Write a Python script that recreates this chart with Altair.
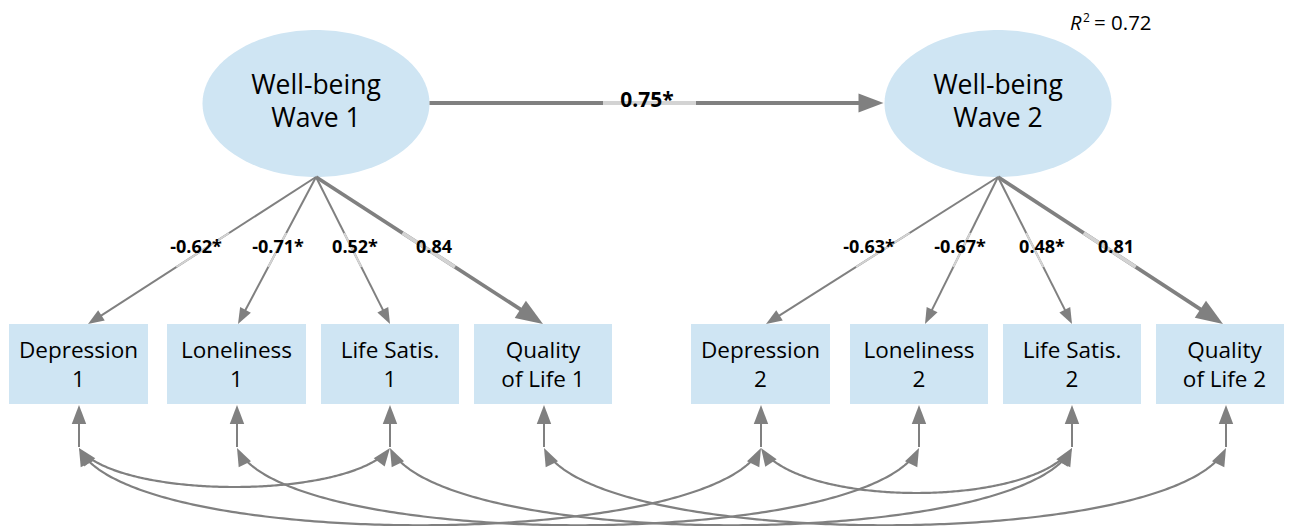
import numpy as np
import pandas as pd
import altair as alt

# ---------------- data ----------------
waves = [1, 2]
factor_labels = ["Well-being\nWave 1", "Well-being\nWave 2"]
indicator_labels = ["Depression\n{w}", "Loneliness\n{w}", "Life Satis.\n{w}", "Quality\nof Life {w}"]
loadings_w1 = [-0.62, -0.71, 0.52, 0.84]
loadings_w2 = [-0.63, -0.67, 0.48, 0.81]
sig_w1 = [True, True, True, False]
sig_w2 = [True, True, True, False]
stability = 0.75
stability_sig = True
r_squared = 0.72
# residual covariances: (wave, indicator index) pairs
residual_covs = [((1, 0), (1, 2)), ((2, 0), (2, 2)),
                 ((1, 0), (2, 0)), ((1, 1), (2, 1)),
                 ((1, 2), (2, 2)), ((1, 3), (2, 3))]

# ---------------- layout (pixels) ----------------
ELL_C = {1: (316.0, 103.5), 2: (998.0, 103.5)}
ELL_RX, ELL_RY = 113.5, 73.5
BOX_X = {1: [(9, 148), (167, 306), (321, 459), (474, 612)],
         2: [(691, 830), (850, 988), (1003, 1141), (1156, 1293)]}
BOX_Y = (324, 404)
LOAD_TIP_X = {1: [88, 238, 390, 543], 2: [766, 925, 1072, 1223]}
LOAD_LBL_X = {1: [196, 278, 355, 434], 2: [869, 960, 1042, 1116]}
RES_X = {1: [79, 237, 390, 544], 2: [761, 919, 1072, 1226]}
RES_Y = 447
GRAY = "#808080"
LIGHT = "#d3d3d3"
FILL = "#cfe5f3"
FONT = "Open Sans"
ARROW = "M0,0L-0.38,1L0.38,1Z"

W, H = 1276, 518
xs = alt.Scale(domain=[8, 8 + W], nice=False, zero=False)
ys = alt.Scale(domain=[8, 8 + H], nice=False, zero=False, reverse=True)


def heading(dx, dy):
    return float(np.degrees(np.arctan2(dx, -dy)) % 360)


rules, heads, curves, texts = [], [], [], []


def add_arrow(x0, y0, x1, y1, w, L, color=GRAY):
    d = np.array([x1 - x0, y1 - y0], float)
    u = d / np.linalg.norm(d)
    ex, ey = np.array([x1, y1]) - u * L * 0.6
    rules.append(dict(x=x0, y=y0, x2=ex, y2=ey, w=w, c=color))
    heads.append(dict(x=x1, y=y1, angle=heading(*u), size=(2 * L) ** 2))


def add_text(x, y, t, fs, fw="normal", al="center", st="normal", lh=0):
    texts.append(dict(x=x, y=y, t=t, fs=fs, fw=fw, al=al, st=st, lh=lh))


# loadings
for wv, lds, sg in [(1, loadings_w1, sig_w1), (2, loadings_w2, sig_w2)]:
    ax, ay = ELL_C[wv][0], ELL_C[wv][1] + ELL_RY
    for i, (v, s) in enumerate(zip(lds, sg)):
        tx, ty = LOAD_TIP_X[wv][i], BOX_Y[0]
        thick = not s
        add_arrow(ax, ay, tx, ty, 3.75 if thick else 2, 27 if thick else 16)
        t0, t1 = (233 - ay) / (ty - ay), (267 - ay) / (ty - ay)
        rules.append(dict(x=ax + t0 * (tx - ax), y=233, x2=ax + t1 * (tx - ax), y2=267,
                          w=3.75 if thick else 2, c=LIGHT))
        add_text(LOAD_LBL_X[wv][i], 253, f"{v:.2f}" + ("*" if s else ""), 18, "bold")

# stability path
add_arrow(ELL_C[1][0] + ELL_RX, 103, ELL_C[2][0] - ELL_RX - 1, 103, 4, 25)
rules.append(dict(x=603, y=103, x2=696, y2=103, w=4, c=LIGHT))
add_text(647, 107, f"{stability:.2f}" + ("*" if stability_sig else ""), 21, "bold")

# residual arrows
for wv in waves:
    for xr in RES_X[wv]:
        add_arrow(xr, RES_Y, xr, BOX_Y[1] + 1, 2, 19)

# residual covariance curves (cubic)
cid = 0
for (a, b) in residual_covs:
    x1, x2 = RES_X[a[0]][a[1]], RES_X[b[0]][b[1]]
    y0 = RES_Y + 1
    if a[0] == b[0]:
        h, aa = (52, 39) if a[0] == 1 else (60, 40)
    else:
        h, aa = 103, 50
    P = np.array([[x1, y0], [x1 + aa, y0 + h], [x2 - aa, y0 + h], [x2, y0]], float)
    tt = np.linspace(0, 1, 200)
    B = ((1 - tt) ** 3)[:, None] * P[0] + (3 * (1 - tt) ** 2 * tt)[:, None] * P[1] \
        + (3 * (1 - tt) * tt ** 2)[:, None] * P[2] + (tt ** 3)[:, None] * P[3]
    dist0 = np.hypot(B[:, 0] - x1, B[:, 1] - y0)
    dist1 = np.hypot(B[:, 0] - x2, B[:, 1] - y0)
    keep = (dist0 > 9) & (dist1 > 9)
    for k, (px, py) in enumerate(B[keep]):
        curves.append(dict(x=px, y=py, k=k, id=cid))
    cid += 1
    L = 18
    heads.append(dict(x=x1, y=y0, angle=heading(-aa, -h), size=(2 * L) ** 2))
    heads.append(dict(x=x2, y=y0, angle=heading(aa, -h), size=(2 * L) ** 2))

# boxes and their labels
boxes = []
for wv in waves:
    for i, (bx0, bx1) in enumerate(BOX_X[wv]):
        boxes.append(dict(x=bx0, x2=bx1, y=BOX_Y[0], y2=BOX_Y[1]))
        add_text((bx0 + bx1) / 2, 358, indicator_labels[i].format(w=wv), 22.5, lh=28.5)

# ellipses
th = np.linspace(0, 2 * np.pi, 90, endpoint=False)
ell_path = "M" + "L".join(f"{np.cos(a):.4f},{ELL_RY / ELL_RX * np.sin(a):.4f}" for a in th) + "Z"
ells = []
for wv in waves:
    ells.append(dict(x=ELL_C[wv][0], y=ELL_C[wv][1], size=(2 * ELL_RX) ** 2))
    add_text(ELL_C[wv][0], 94, factor_labels[wv - 1], 26.5, lh=32.5)

# R squared
add_text(1070, 30, "R", 20, al="left", st="italic")
add_text(1083, 22, "2", 12, al="left")
add_text(1094, 30, f"= {r_squared:.2f}", 20.5, al="left")

X = lambda f="x": alt.X(f + ":Q", scale=xs, axis=None)
Y = lambda f="y": alt.Y(f + ":Q", scale=ys, axis=None)

box_layer = alt.Chart(pd.DataFrame(boxes)).mark_rect(color=FILL).encode(
    x=X(), x2="x2:Q", y=Y(), y2="y2:Q")
ell_layer = alt.Chart(pd.DataFrame(ells)).mark_point(
    shape=ell_path, filled=True, color=FILL, opacity=1, strokeWidth=0).encode(
    x=X(), y=Y(), size=alt.Size("size:Q", scale=None))
rule_layer = alt.Chart(pd.DataFrame(rules)).mark_rule(strokeCap="butt").encode(
    x=X(), x2="x2:Q", y=Y(), y2="y2:Q",
    strokeWidth=alt.StrokeWidth("w:Q", scale=None),
    color=alt.Color("c:N", scale=None))
curve_layer = alt.Chart(pd.DataFrame(curves)).mark_line(color=GRAY, strokeWidth=2.2).encode(
    x=X(), y=Y(), detail="id:N", order="k:Q")
head_layer = alt.Chart(pd.DataFrame(heads)).mark_point(
    shape=ARROW, filled=True, color=GRAY, opacity=1, strokeWidth=0).encode(
    x=X(), y=Y(), size=alt.Size("size:Q", scale=None),
    angle=alt.Angle("angle:Q", scale=None))

tdf = pd.DataFrame(texts)
text_layers = []
for (fs, fw, al, st, lh), g in tdf.groupby(["fs", "fw", "al", "st", "lh"]):
    kw = dict(font=FONT, fontSize=float(fs), fontWeight=fw, align=al, fontStyle=st,
              baseline="alphabetic", color="black", lineBreak="\n")
    if lh:
        kw["lineHeight"] = float(lh)
    text_layers.append(alt.Chart(g).mark_text(**kw).encode(x=X(), y=Y(), text="t:N"))

chart = alt.layer(box_layer, ell_layer, curve_layer, rule_layer, head_layer, *text_layers).properties(
    width=W, height=H, autosize="none", padding=0
).configure_view(stroke=None)

chart.save("out.html", embed_options={"renderer": "svg", "actions": False})
